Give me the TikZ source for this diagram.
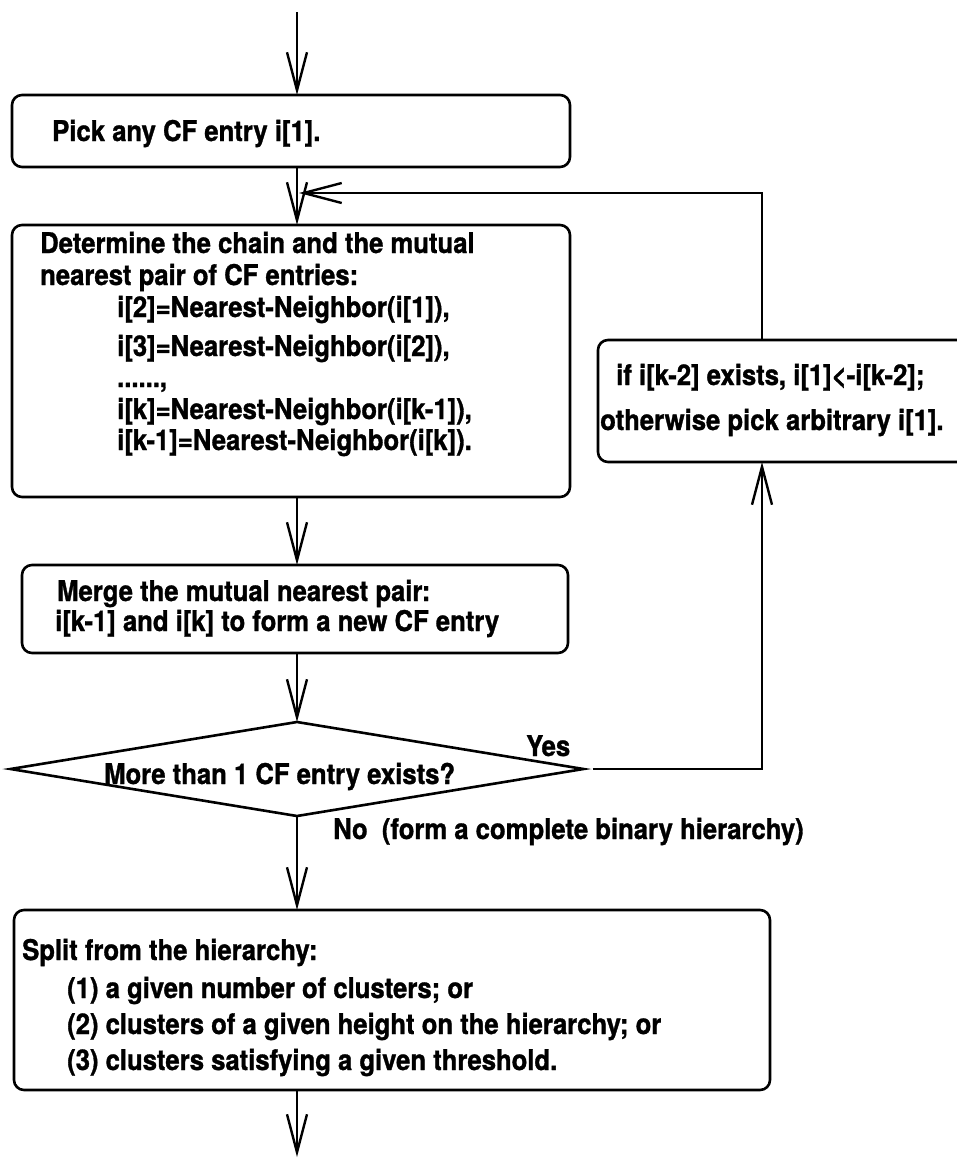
\documentclass[tikz,border=0pt]{standalone}
\usepackage{fontspec}
\setmainfont{TeX Gyre Heros}
\newfontfamily\labelfont[FakeStretch=0.9,FakeBold=1.1]{TeX Gyre Heros}
\usetikzlibrary{arrows.meta,shapes.geometric}
\begin{document}
\begin{tikzpicture}[x=1pt,y=-1pt,
  box/.style={draw, line width=2.6pt, rounded corners=10pt, inner sep=0pt, outer sep=0pt},
  txt/.style={anchor=west, inner sep=0pt, text height=20pt, text depth=0pt,
              font=\labelfont\fontsize{28.5}{32}\selectfont\bfseries},
  arr/.style={draw, line width=2pt,
              -{Straight Barb[length=38pt,width=20pt,line width=2.4pt]}}]
\useasboundingbox (0,0) rectangle (956,1159);

% process boxes
\node[box, minimum width=558pt, minimum height=72pt]  (pick)  at (291,131) {};
\node[box, minimum width=558pt, minimum height=272pt] (chain) at (291,361) {};
\node[box, minimum width=546pt, minimum height=88pt]  (merge) at (295,609) {};
\node[box, minimum width=382pt, minimum height=122pt] (reset) at (789,401) {};
\node[box, minimum width=756pt, minimum height=180pt] (split) at (392,1000) {};
\node[draw, line width=2.6pt, diamond, inner sep=0pt, outer sep=0pt,
      minimum width=573pt, minimum height=94pt] (test) at (297,769) {};

% texts
\node[txt] (t1) at (52,131) {Pick any CF entry i[1].};
\node[txt] (d1) at (40,243) {Determine the chain and the mutual};
\node[txt] (d2) at (40,275) {nearest pair of CF entries:};
\node[txt] (d3) at (117,307) {i[2]=Nearest-Neighbor(i[1]),};
\node[txt] (d4) at (117,346) {i[3]=Nearest-Neighbor(i[2]),};
\node[txt] (d5) at (117,377) {......,};
\node[txt] (d6) at (117,409) {i[k]=Nearest-Neighbor(i[k-1]),};
\node[txt] (d7) at (117,440) {i[k-1]=Nearest-Neighbor(i[k]).};
\node[txt] (m1) at (57,591) {Merge the mutual nearest pair:};
\node[txt] (m2) at (55,621) {i[k-1] and i[k] to form a new CF entry};
\node[txt] (q)  at (104,774) {More than 1 CF entry exists?};
\node[txt] (yes) at (526,746) {Yes};
\node[txt] (no) at (333,829) {No\ \ (form a complete binary hierarchy)};
\node[txt] (r1) at (616,375) {if i[k-2] exists, i[1]<-i[k-2];};
\node[txt] (r2) at (600,420) {otherwise pick arbitrary i[1].};
\node[txt] (s1) at (22,950) {Split from the hierarchy:};
\node[txt] (s2) at (67,988) {(1) a given number of clusters; or};
\node[txt] (s3) at (67,1024) {(2) clusters of a given height on the hierarchy; or};
\node[txt] (s4) at (67,1060) {(3) clusters satisfying a given threshold.};

% connector columns and free ends
\coordinate (stem) at (297,0);
\coordinate (col)  at (762,0);
\coordinate (start) at (297,12);
\coordinate (finish) at (297,1157);
\coordinate (loopend) at (299,193);

% main flow
\draw[arr] (start) -- (pick.north -| stem);
\draw[arr] (pick.south -| stem) -- (chain.north -| stem);
\draw[arr] (chain.south -| stem) -- (merge.north -| stem);
\draw[arr] (merge.south -| stem) -- (test.north);
\draw[arr] (test.south) -- (split.north -| stem);
\draw[arr] (split.south -| stem) -- (finish);

% loop back
\draw[arr] ([xshift=9pt]test.east) -| (reset.south -| col);
\draw[arr] (reset.north -| col) |- (loopend);
\end{tikzpicture}
\end{document}
